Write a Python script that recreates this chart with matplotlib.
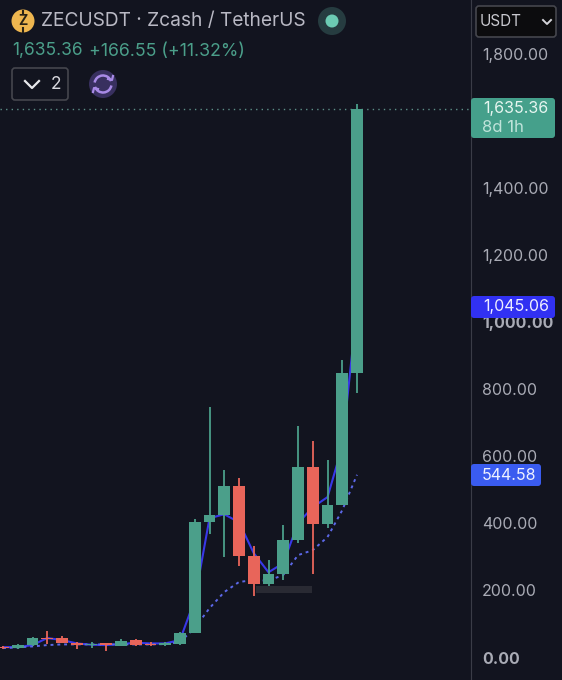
import numpy as np
import matplotlib
matplotlib.use("Agg")
import matplotlib.pyplot as plt
from matplotlib.patches import FancyBboxPatch, Circle, Rectangle, Arc

plt.rcParams['font.family'] = ['Inter', 'DejaVu Sans']

# candle values
opens = [32.7, 27.4, 37.2, 59, 57, 44, 36.3, 42, 35, 51, 41, 37, 40,
         74, 403, 426, 510, 303, 219, 248, 350, 568, 398, 456, 847]
closes = [27.4, 37.2, 58.9, 54, 43, 36.3, 41, 37, 49, 38, 36, 43, 73,
          403, 426, 510, 303, 219, 248, 350, 568, 399, 456, 847, 1635.36]
highs = [34, 40, 61.9, 79.8, 63, 47, 45, 43, 55, 56, 47, 46, 77,
         412, 748, 560, 536, 332, 290, 394, 689, 644, 590, 888, 1650]
lows = [25, 24.4, 34.2, 40, 42, 24.4, 29, 20, 33, 35, 34, 33, 38,
        72, 368, 300, 274, 184, 191, 231, 342, 250, 386, 454, 787]

# moving averages
ma_fast = [31, 31, 37, 58, 52, 42, 38, 37, 40, 44, 42, 42, 52,
           172, 415, 427, 403, 311, 254, 281, 400, 448, 478, 629, 1045.06]
ma_slow = [28, 30, 33, 37, 39, 39, 39, 39, 39, 39, 39, 40, 46,
           88, 147, 195, 225, 231, 229, 246, 305, 320, 359, 439, 544.58]

# 1,600.00 sits under the price tag in the reference, so it is left out
price_ticks = [0, 200, 400, 600, 800, 1000, 1200, 1400, 1800]
bold_ticks = [0, 1000]
last_price = 1635.36

BG = '#12141f'
GREEN = '#4b9f8a'
RED = '#e8655a'
BLUE = '#3838e8'
DASH = '#5c68e8'
GREY = '#a9abb5'

W, H = 562, 680
fig = plt.figure(figsize=(W / 100, H / 100), dpi=100, facecolor=BG)

# price pane, the scale is 0.3355 px per USDT
ax = fig.add_axes([0, 0, 471 / W, 1], facecolor=BG)
ax.set_xlim(-3 / 14.75, 468 / 14.75)
ax.set_ylim((657.5 - 680) / 0.3355, 657.5 / 0.3355)

idx = np.arange(len(opens))
o = np.array(opens)
c = np.array(closes)
colors = [GREEN if b >= a else RED for a, b in zip(o, c)]

ax.plot(idx, ma_fast, color=BLUE, lw=1.5, zorder=2)
ax.plot(idx, ma_slow, color=DASH, lw=1.4, ls=(0, (1.5, 2)), zorder=2)
ax.vlines(idx, lows, highs, colors=colors, lw=1.3, zorder=3)
ax.bar(idx, c - o, bottom=o, width=0.8, color=colors, zorder=4)
ax.axhline(last_price, color='#5d8f88', lw=1, ls=(0, (1, 3)), zorder=1)

ax.spines[['top', 'left', 'bottom']].set_visible(False)
ax.spines['right'].set_color('#3a3c47')
ax.set_xticks([])
ax.yaxis.tick_right()
ax.set_yticks(price_ticks)
ax.set_yticklabels([f"{v:,.2f}" for v in price_ticks], color=GREY, fontsize=11.5, ha='left')
ax.tick_params(axis='y', length=0, pad=8)
for v, label in zip(price_ticks, ax.get_yticklabels()):
    if v in bold_ticks:
        label.set_fontweight('bold')

# header and price tags go on a pixel overlay
ui = fig.add_axes([0, 0, 1, 1], facecolor='none')
ui.set_xlim(0, W)
ui.set_ylim(H, 0)
ui.axis('off')


def tag(x0, y0, x1, y1, color, edge='none'):
    ui.add_patch(FancyBboxPatch((x0, y0), x1 - x0, y1 - y0,
                                boxstyle="round,pad=0,rounding_size=3",
                                fc=color, ec=edge, lw=1.2))


# smudge under the candles
ui.add_patch(Rectangle((256, 586), 56, 6.5, fc='#292a33', ec='none', zorder=0))

tag(471, 98, 555, 138, '#45a08b')
ui.text(483, 109, "1,635.36", color='#e6f5f0', fontsize=11.5, va='center')
ui.text(482, 127, "8d 1h", color='#bfe3da', fontsize=12, va='center')
tag(471, 296, 555, 318, '#3131f2')
ui.text(483, 307, "1,045.06", color='#eeeeff', fontsize=11.5, va='center')
tag(471, 464, 541, 486, '#3a5cf0')
ui.text(482, 475.5, "544.58", color='#eef1ff', fontsize=11.5, va='center')

tag(476, 6, 556, 37, '#0c0c0e', '#45464d')
ui.text(480, 21.5, "USDT", color='#c9c9cf', fontsize=11, va='center')
ui.plot([543, 547, 551], [20, 24, 20], color='#d5d5da', lw=1.4)

# symbol line
ui.add_patch(Circle((23, 21), 11.5, fc='#eeb64f', ec='none'))
ui.text(23, 21, "Z", color='#2a2416', fontsize=10, fontweight='bold', ha='center', va='center')
ui.plot([23, 23], [10.5, 14], color='#2a2416', lw=1.5)
ui.plot([23, 23], [28, 31.5], color='#2a2416', lw=1.5)
ui.text(41, 21, "ZECUSDT · Zcash / TetherUS", color='#b9b9c4', fontsize=13.8, va='center')
ui.add_patch(Circle((332, 21), 14, fc='#263c40', ec='none'))
ui.add_patch(Circle((332, 21), 6.5, fc='#6ccbb3', ec='none'))

ui.text(12, 51, "1,635.36", color=GREEN, fontsize=12.5, va='center')
ui.text(89, 51, "+166.55 (+11.32%)", color=GREEN, fontsize=12.8, va='center')

# collapse button and sync icon
tag(12, 68, 68, 100, BG, '#45464d')
ui.plot([25, 32, 39], [81, 88, 81], color='#e8e8ec', lw=1.6)
ui.text(56.5, 84.5, "2", color='#d8d8de', fontsize=12.5, ha='center', va='center')
ui.add_patch(Circle((103, 84), 14, fc='#38305f', ec='none'))
ui.add_patch(Arc((103, 84), 17, 17, theta1=190, theta2=340, color='#a88ae6', lw=1.8))
ui.add_patch(Arc((103, 84), 17, 17, theta1=10, theta2=160, color='#a88ae6', lw=1.8))
ui.plot([108, 112, 113], [79, 80, 76], color='#a88ae6', lw=1.6)
ui.plot([98, 94, 93], [89, 88, 92], color='#a88ae6', lw=1.6)

fig.savefig("out.png", dpi=100, facecolor=BG)
